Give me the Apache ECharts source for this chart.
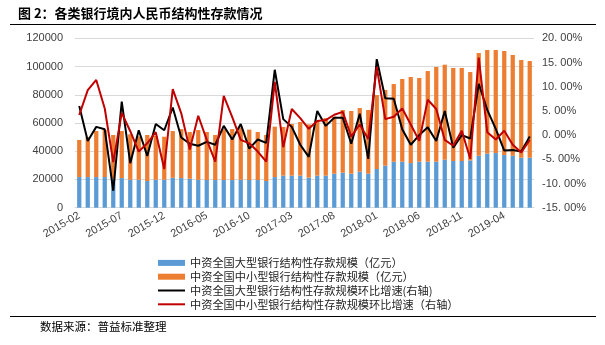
<!DOCTYPE html>
<html>
<head>
<meta charset="utf-8">
<script src="https://cdn.jsdelivr.net/npm/echarts@6/dist/echarts.min.js"></script>
<style>
html,body{margin:0;padding:0;background:#fff;}
#c{width:605px;height:345px;}
</style>
</head>
<body>
<div id="c"></div>
<script>
const categories = ["2015-02","2015-03","2015-04","2015-05","2015-06","2015-07","2015-08","2015-09","2015-10","2015-11","2015-12",
"2016-01","2016-02","2016-03","2016-04","2016-05","2016-06","2016-07","2016-08","2016-09","2016-10","2016-11","2016-12",
"2017-01","2017-02","2017-03","2017-04","2017-05","2017-06","2017-07","2017-08","2017-09","2017-10","2017-11","2017-12",
"2018-01","2018-02","2018-03","2018-04","2018-05","2018-06","2018-07","2018-08","2018-09","2018-10","2018-11","2018-12",
"2019-01","2019-02","2019-03","2019-04","2019-05","2019-06","2019-07"];

const largeBankDeposits = [21700,21700,21700,21700,20500,21000,19800,19800,18900,19800,19800,
21200,21000,20500,19800,19600,19600,19600,19600,19800,19600,19600,18900,
21700,22700,22700,22700,21300,22700,22700,24100,24800,24100,25500,24100,
27400,29800,32600,32600,31600,32600,32600,32600,34000,33100,33100,33500,
36800,38300,38700,37300,36800,35400,35400];

const smallBankDeposits = [26300,28300,32600,33300,31000,33300,32200,30700,32600,31000,30500,
33100,34700,33100,35200,34000,31900,35900,36100,37100,35700,34000,32600,
35700,34500,36600,38000,37700,38900,40800,40400,44400,44400,45100,45100,
52400,53600,55000,58600,61000,59300,64200,67100,67300,65900,65900,62600,
72800,73400,73000,73700,71400,69200,68500];

const largeBankGrowth = [6.0,-1.2,1.7,1.2,-11.5,6.9,-5.8,1.0,-4.3,2.3,1.0,
5.7,-0.5,-1.8,-2.2,-1.4,-2.0,1.9,-0.9,2.3,-2.8,-0.9,-1.6,
13.5,3.3,1.7,-2.0,-4.5,5.0,1.9,3.6,3.6,-1.8,4.4,-4.9,
15.7,7.6,7.5,1.2,-2.0,0.0,1.6,-1.2,5.0,-2.6,0.0,-0.7,
10.6,5.2,1.3,-3.2,-3.1,-3.4,-0.3];

const smallBankGrowth = [4.15,9.3,11.4,5.5,-5.6,4.6,0.8,-3.4,-1.7,0.6,-7.0,
9.5,4.5,-3.0,4.0,-1.0,-5.5,8.1,3.7,-1.0,-1.7,-3.4,-5.5,
11.0,-2.5,5.4,3.5,1.3,2.9,3.1,4.2,4.8,-0.3,2.2,-0.8,
14.1,3.3,3.8,5.5,2.2,-1.2,7.3,5.4,-1.0,-2.2,0.9,-4.9,
16.0,0.6,-0.9,0.9,-2.0,-3.6,-1.0];

const seriesNames = [
  "中资全国大型银行结构性存款规模（亿元）",
  "中资全国中小型银行结构性存款规模（亿元）",
  "中资全国大型银行结构性存款规模环比增速(右轴)",
  "中资全国中小型银行结构性存款规模环比增速（右轴）"
];
const titleText = "图 2：各类银行境内人民币结构性存款情况";
const sourceText = "数据来源：普益标准整理";

const cjk = '"Noto Sans CJK SC", sans-serif';
const num = '"Liberation Sans", Arial, sans-serif';

const chart = echarts.init(document.getElementById('c'), null, {renderer: 'canvas'});
chart.setOption({
  animation: false,
  backgroundColor: '#fff',
  graphic: [
    {type: 'text', left: 18, top: 7, style: {text: titleText, font: 'bold 13px ' + cjk, fill: '#000'}},
    {type: 'line', shape: {x1: 10, y1: 24.5, x2: 596, y2: 24.5}, style: {stroke: '#000', lineWidth: 1}},
    {type: 'line', shape: {x1: 10, y1: 316.5, x2: 596, y2: 316.5}, style: {stroke: '#000', lineWidth: 1}},
    {type: 'text', left: 40, top: 321, style: {text: sourceText, font: '11.5px ' + cjk, fill: '#000'}}
  ],
  legend: {
    orient: 'vertical',
    left: 152,
    top: 251,
    itemWidth: 27,
    itemHeight: 6,
    itemGap: 0,
    textStyle: {fontFamily: cjk, fontSize: 11.2, color: '#222', lineHeight: 13.8},
    data: [
      {name: seriesNames[0], icon: 'rect'},
      {name: seriesNames[1], icon: 'rect'},
      {name: seriesNames[2], itemStyle: {opacity: 0}},
      {name: seriesNames[3], itemStyle: {opacity: 0}}
    ]
  },
  grid: {left: 75, right: 71, top: 38.3, height: 169.4, containLabel: false},
  xAxis: {
    type: 'category',
    data: categories,
    boundaryGap: true,
    axisLine: {lineStyle: {color: '#d9d9d9'}},
    axisTick: {show: false},
    axisLabel: {interval: 4, rotate: 30, fontFamily: num, fontSize: 11, color: '#404040', margin: 7}
  },
  yAxis: [
    {
      type: 'value', min: 0, max: 120000, interval: 20000,
      axisLine: {show: false}, axisTick: {show: false},
      splitLine: {lineStyle: {color: '#d9d9d9'}},
      axisLabel: {fontFamily: num, fontSize: 11, color: '#404040', margin: 12,
        formatter: v => String(v)}
    },
    {
      type: 'value', min: -15, max: 20, interval: 5,
      axisLine: {show: false}, axisTick: {show: false},
      splitLine: {show: false},
      axisLabel: {fontFamily: num, fontSize: 11, color: '#404040', margin: 8,
        formatter: v => v.toFixed(2).replace('.', '. ') + '%'}
    }
  ],
  series: [
    {name: seriesNames[0], type: 'bar', stack: 'dep', data: largeBankDeposits, barWidth: '50%',
     itemStyle: {color: '#5b9bd5'}},
    {name: seriesNames[1], type: 'bar', stack: 'dep', data: smallBankDeposits, barWidth: '50%',
     itemStyle: {color: '#ed7d31'}},
    {name: seriesNames[2], type: 'line', yAxisIndex: 1, data: largeBankGrowth, symbol: 'none',
     lineStyle: {color: '#000', width: 2}, itemStyle: {color: '#000'}},
    {name: seriesNames[3], type: 'line', yAxisIndex: 1, data: smallBankGrowth, symbol: 'none',
     lineStyle: {color: '#c00000', width: 2}, itemStyle: {color: '#c00000'}}
  ]
});
</script>
</body>
</html>
